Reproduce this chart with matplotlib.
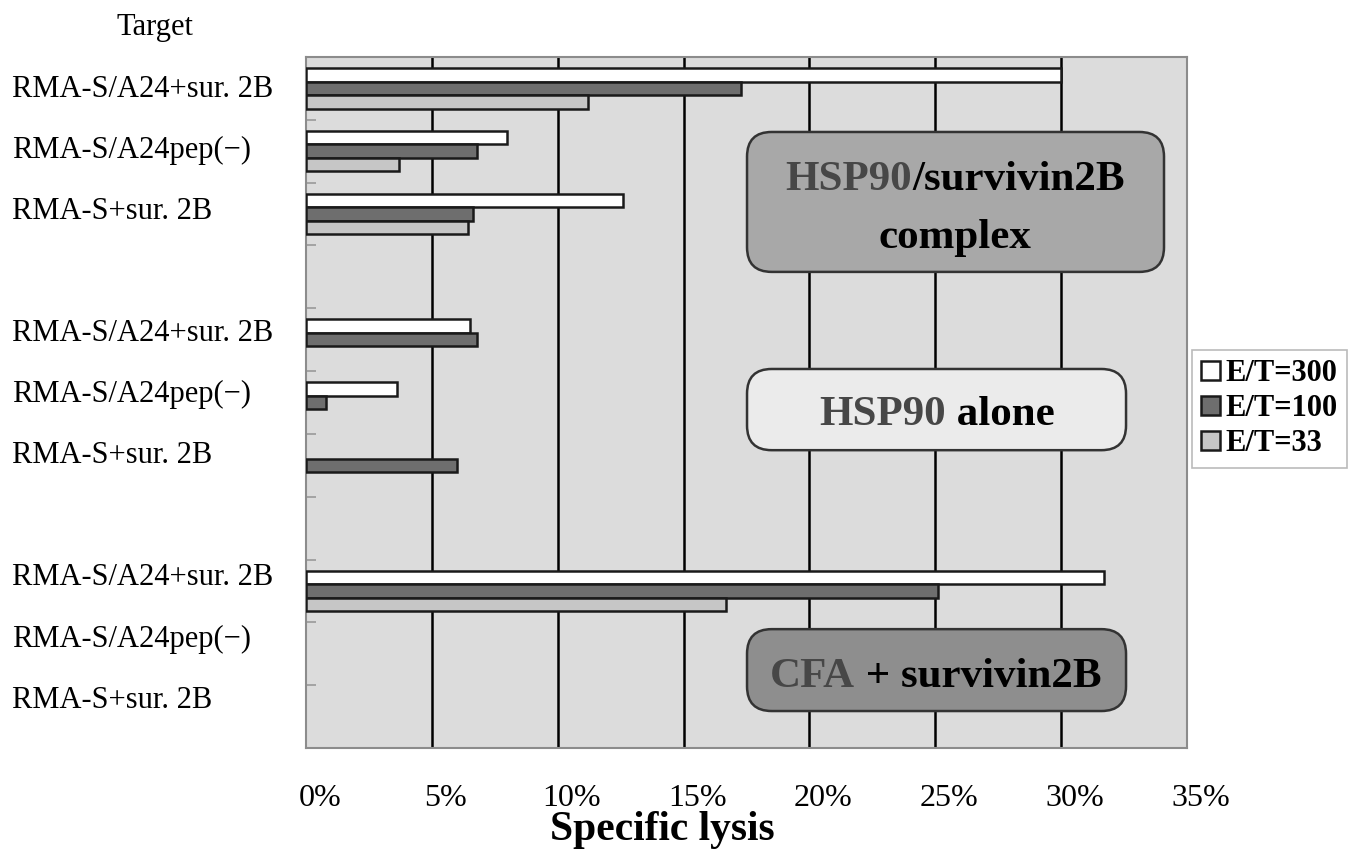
import numpy as np
import matplotlib
matplotlib.use('Agg')
import matplotlib.pyplot as plt
from matplotlib.patches import FancyBboxPatch
from matplotlib.transforms import ScaledTranslation

# data (specific lysis, %)
targets = ['RMA-S/A24+sur. 2B', 'RMA-S/A24pep(\u2212)', 'RMA-S+sur. 2B']
groups = ['HSP90/survivin2B complex', 'HSP90 alone', 'CFA + survivin2B']
et_labels = ['E/T=300', 'E/T=100', 'E/T=33']
et300 = [30.0, 8.0, 12.6, 6.5, 3.6, 0.0, 31.7, 0.0, 0.0]
et100 = [17.3, 6.8, 6.65, 6.8, 0.8, 6.0, 25.1, 0.0, 0.0]
et33 = [11.2, 3.7, 6.45, 0.0, 0.0, 0.0, 16.7, 0.0, 0.0]
xticks = [0, 5, 10, 15, 20, 25, 30, 35]

bar_colors = ['#ffffff', '#6e6e6e', '#c6c6c6']
serif = ['Liberation Serif', 'DejaVu Serif']
plt.rcParams['font.family'] = serif

W, H = 1353, 851
# 3 groups of 3 targets, one empty slot between groups
ypos = np.array([g * 4 + i for g in range(3) for i in range(3)], dtype=float)

fig = plt.figure(figsize=(W / 100, H / 100), dpi=100)
ax = fig.add_axes([306 / W, 1 - 748 / H, 881 / W, 691 / H])
ax.set_facecolor('#dcdcdc')

h = 0.215
bars = []
for k, vals in enumerate([et300, et100, et33]):
    vals = np.array(vals)
    m = vals > 0
    b = ax.barh(ypos[m] + (k - 1) * h, vals[m], height=h, color=bar_colors[k],
                edgecolor='#1a1a1a', linewidth=1.8, zorder=3, label=et_labels[k])
    bars.append(b)

ax.set_xlim(0, 35)
ax.set_ylim(10.5, -0.5)
for x in xticks[1:-1]:
    ax.axvline(x, color='black', lw=1.8, zorder=1)

ax.set_xticks(xticks)
ax.set_xticklabels([f'{x}%' for x in xticks], fontsize=23)
ax.tick_params(axis='x', length=0, pad=26)
for lab in ax.get_xticklabels():
    lab.set_transform(lab.get_transform() + ScaledTranslation(14 / 100, 0, fig.dpi_scale_trans))
ax.set_yticks(np.arange(-0.5, 10.6, 1))
ax.set_yticklabels([])
ax.tick_params(axis='y', direction='in', length=7, color='#999999', width=1.2)
for s in ax.spines.values():
    s.set_color('#8c8c8c')
    s.set_linewidth(1.5)

fig.text(662 / W, 1 - 840 / H, 'Specific lysis', fontsize=30, fontweight='bold',
         ha='center', va='baseline')

# target labels on the left: an evenly spaced text block, blank line between groups
line_h = 61.1
fig.text(155 / W, 1 - 28 / H, 'Target', fontsize=22, ha='center', va='center')
for i in range(len(ypos)):
    line = i + i // 3 + 1
    fig.text(12 / W, 1 - (28 + line * line_h) / H, targets[i % 3],
             fontsize=22, ha='left', va='center')

# group boxes
aspect = 881 / 691
box_specs = [((0.5006, 0.689), 0.4733, 0.2025, '#a8a8a8'),
             ((0.5006, 0.431), 0.4302, 0.1175, '#ebebeb'),
             ((0.5006, 0.0535), 0.4302, 0.1185, '#8e8e8e')]
for (x0, y0), w, hh, fc in box_specs:
    ax.add_patch(FancyBboxPatch((x0, y0), w, hh, boxstyle='round,pad=0,rounding_size=0.028',
                                mutation_aspect=aspect, transform=ax.transAxes,
                                facecolor=fc, edgecolor='#333333', lw=1.8, zorder=5, clip_on=False))

renderer = fig.canvas.get_renderer()


def colored_line(pieces, xc, yb, size):
    texts = []
    for s, c in pieces:
        t = ax.text(0, yb, s, color=c, fontsize=size, fontweight='bold',
                    transform=ax.transAxes, ha='left', va='baseline', zorder=6)
        texts.append(t)
    widths = [t.get_window_extent(renderer).width / ax.bbox.width for t in texts]
    x = xc - sum(widths) / 2
    for t, w in zip(texts, widths):
        t.set_x(x)
        x += w


hi = '#474747'
colored_line([('HSP90', hi), ('/survivin2B', 'black')], 0.737, 0.808, 31)
colored_line([('complex', 'black')], 0.737, 0.724, 31)
colored_line([('HSP90', hi), (' alone', 'black')], 0.716, 0.468, 31)
colored_line([('CFA', hi), (' + survivin2B', 'black')], 0.715, 0.089, 31)

leg = fig.legend(handles=bars, loc='upper left', bbox_to_anchor=(1192 / W, 1 - 350 / H),
                 prop={'family': serif, 'weight': 'bold', 'size': 22}, frameon=True,
                 fancybox=False, edgecolor='#aaaaaa', handlelength=0.6, handleheight=0.6,
                 handletextpad=0.2, borderpad=0.3, labelspacing=0.2, borderaxespad=0)
leg.get_frame().set_linewidth(1.2)

fig.savefig('out.png', dpi=100)
